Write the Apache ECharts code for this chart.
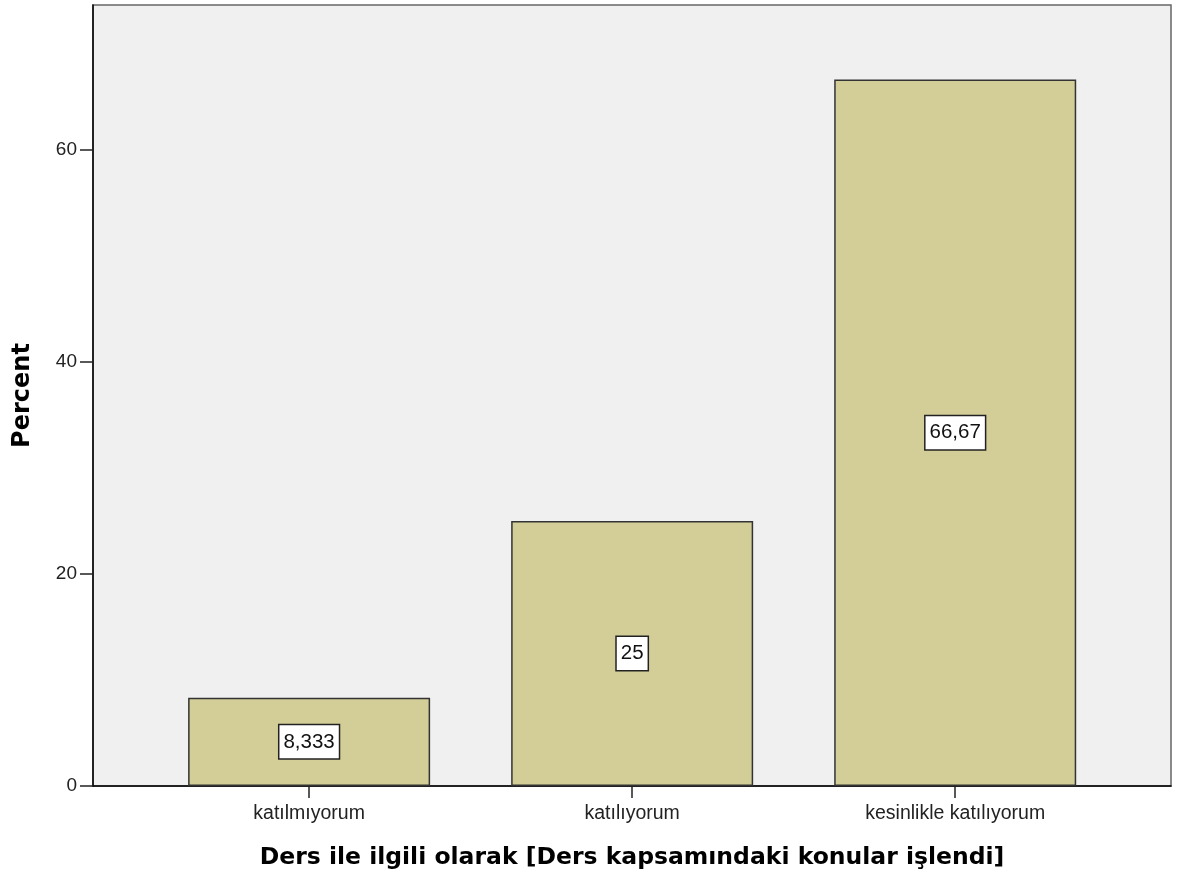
<!DOCTYPE html>
<html>
<head>
<meta charset="utf-8">
<script src="https://cdn.jsdelivr.net/npm/echarts@6/dist/echarts.min.js"></script>
<style>
  html, body { margin: 0; padding: 0; background: #fff; }
  #chart { width: 1179px; height: 884px; }
</style>
</head>
<body>
<div id="chart"></div>
<script>
// data
const categories = ['katılmıyorum', 'katılıyorum', 'kesinlikle katılıyorum']
const percents = [8.333, 25, 66.67]
const yTicks = [0, 20, 40, 60]

const chart = echarts.init(document.getElementById('chart'))

const barFill = '#d3ce98'
const edge = '#333'

const option = {
  animation: false,
  textStyle: { fontFamily: 'Liberation Sans' },
  grid: {
    left: 93, right: 8, top: 5, bottom: 98,
    show: true,
    backgroundColor: '#f0f0f0',
    borderColor: '#666',
    borderWidth: 1.5
  },
  xAxis: {
    type: 'value',
    min: 0.331,
    max: 3.668,
    splitLine: { show: false },
    axisLine: { show: true, lineStyle: { color: '#000', width: 1.5 } },
    axisTick: {
      show: true, length: 12, customValues: [1, 2, 3],
      lineStyle: { color: '#222', width: 1.5 }
    },
    axisLabel: {
      customValues: [1, 2, 3],
      formatter: v => categories[Math.round(v) - 1],
      color: '#222', fontSize: 19.5, margin: 18
    },
    name: 'Ders ile ilgili olarak [Ders kapsamındaki konular işlendi]',
    nameLocation: 'middle',
    nameGap: 60,
    nameTextStyle: { fontFamily: 'DejaVu Sans', fontWeight: 'bold', fontSize: 23.5, color: '#000' }
  },
  yAxis: {
    type: 'value',
    min: 0,
    max: 73.7,
    splitLine: { show: false },
    axisLine: { show: true, lineStyle: { color: '#000', width: 1.5 } },
    axisTick: {
      show: true, length: 13, customValues: yTicks,
      lineStyle: { color: '#222', width: 1.5 }
    },
    axisLabel: {
      customValues: yTicks,
      color: '#222', fontSize: 19, margin: 16
    },
    name: 'Percent',
    nameLocation: 'middle',
    nameGap: 58,
    nameTextStyle: { fontFamily: 'DejaVu Sans', fontWeight: 'bold', fontSize: 24, color: '#000' }
  },
  series: [{
    type: 'bar',
    barWidth: 242,
    data: percents.map((v, i) => [i + 1, v]),
    itemStyle: { color: barFill, borderColor: edge, borderWidth: 1.5 },
    label: {
      show: true,
      position: 'inside',
      formatter: p => String(p.value[1]).replace('.', ','),
      color: '#111',
      fontSize: 20.5,
      backgroundColor: '#fff',
      borderColor: '#222',
      borderWidth: 1.5,
      padding: [7, 4, 5, 4]
    }
  }]
}

chart.setOption(option)
</script>
</body>
</html>
